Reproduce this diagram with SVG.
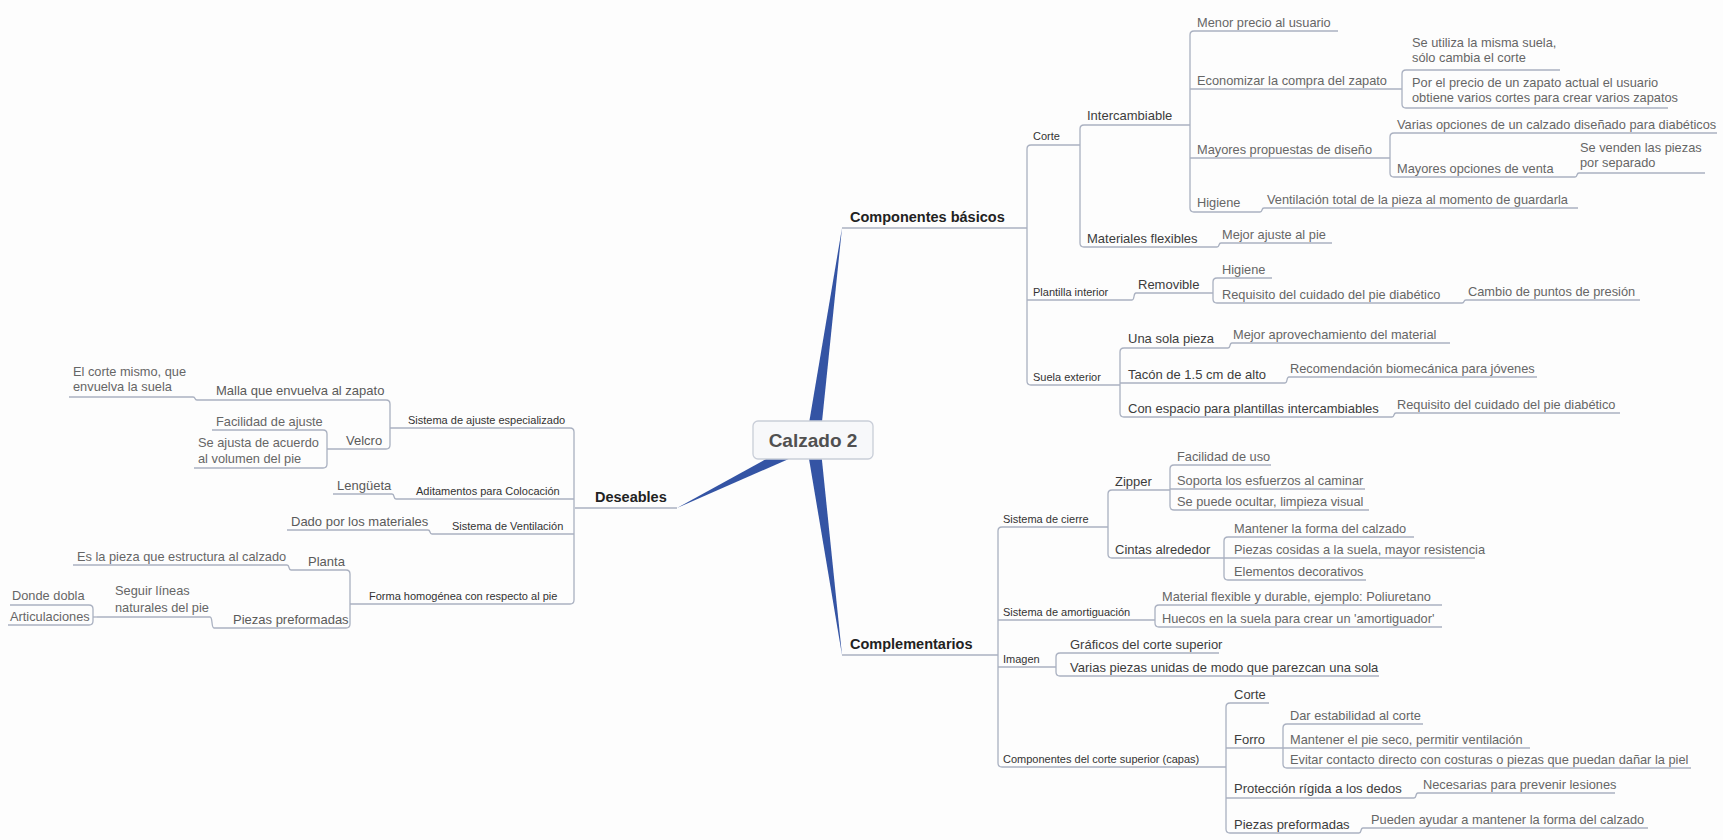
<svg xmlns="http://www.w3.org/2000/svg" width="1723" height="840" viewBox="0 0 1723 840">
<style>
text{font-family:"Liberation Sans",Arial,sans-serif}
.l1{font-size:14.5px;font-weight:bold;fill:#222}
.l2{font-size:11px;fill:#333}
.l3{font-size:13px;fill:#3c3c3c}
.l3g{font-size:13px;fill:#5a5a5a}
.l4{font-size:12.8px;fill:#666}
.root{font-size:19px;font-weight:bold;fill:#505050}
.u{stroke:#aab1c1;stroke-width:1.3;fill:none}
.c{stroke:#aab1c1;stroke-width:1.3;fill:none}
.b{fill:#3454a4}
</style>
<rect width="1723" height="840" fill="#fdfdfd"/>
<g id="connectors">
<path class="b" d="M806,441 L842,228 L820,441 Z"/>
<path class="b" d="M806,441 L842,655 L820,441 Z"/>
<path class="b" d="M810,435 L677,508 L816,447 Z"/>
<path class="c" d="M1031,145 Q1027,145 1027,149 V381 Q1027,385 1031,385"/>
<path class="c" d="M1084,125 Q1080,125 1080,129 V243 Q1080,247 1084,247"/>
<path class="c" d="M1194,31 Q1190,31 1190,35 V208 Q1190,212 1194,212"/>
<path class="c" d="M1406,70 Q1402,70 1402,74 V104 Q1402,108 1406,108"/>
<path class="c" d="M1394,133 Q1390,133 1390,137 V173 Q1390,177 1394,177"/>
<path class="c" d="M1575,177 C1578,177 1576,173 1579,173"/>
<path class="c" d="M1260,212 C1263,212 1261,208 1264,208"/>
<path class="c" d="M1217,247 C1220,247 1218,243 1221,243"/>
<path class="c" d="M1132,300 C1135,300 1133,293 1136,293"/>
<path class="c" d="M1217,278 Q1213,278 1213,282 V299 Q1213,303 1217,303"/>
<path class="c" d="M1462,303 C1465,303 1463,300 1466,300"/>
<path class="c" d="M1124,348 Q1120,348 1120,352 V413 Q1120,417 1124,417"/>
<path class="c" d="M1228,348 C1231,348 1229,343 1232,343"/>
<path class="c" d="M1285,383 C1288,383 1286,377 1289,377"/>
<path class="c" d="M1392,417 C1395,417 1393,413 1396,413"/>
<path class="c" d="M1002,527 Q998,527 998,531 V763 Q998,767 1002,767"/>
<path class="c" d="M1112,490 Q1108,490 1108,494 V554 Q1108,558 1112,558"/>
<path class="c" d="M1174,465 Q1170,465 1170,469 V506 Q1170,510 1174,510"/>
<path class="c" d="M1228,537 Q1224,537 1224,541 V576 Q1224,580 1228,580"/>
<path class="c" d="M1159,605 Q1155,605 1155,609 V623 Q1155,627 1159,627"/>
<path class="c" d="M1060,653 Q1056,653 1056,657 V672 Q1056,676 1060,676"/>
<path class="c" d="M1230,703 Q1226,703 1226,707 V829 Q1226,833 1230,833"/>
<path class="c" d="M1287,724 Q1283,724 1283,728 V764 Q1283,768 1287,768"/>
<path class="c" d="M1414,798 C1417,798 1415,793 1418,793"/>
<path class="c" d="M1359,833 C1362,833 1360,828 1363,828"/>
<path class="c" d="M570,428 Q574,428 574,432 V600 Q574,604 570,604"/>
<path class="c" d="M386,400 Q390,400 390,404 V445 Q390,449 386,449"/>
<path class="c" d="M197,400 C194,400 196,397 193,397"/>
<path class="c" d="M323,430 Q327,430 327,434 V464 Q327,468 323,468"/>
<path class="c" d="M396,499 C393,499 395,494 392,494"/>
<path class="c" d="M432,534 C429,534 431,530 428,530"/>
<path class="c" d="M346,570 Q350,570 350,574 V624 Q350,628 346,628"/>
<path class="c" d="M291,570 C288,570 290,565 287,565"/>
<path class="c" d="M214,628 C211,628 213,617 210,617"/>
<path class="c" d="M89,605 Q93,605 93,609 V621 Q93,625 89,625"/>
<path class="c" d="M97,617 H93"/>
</g>
<g id="root">
<rect x="753" y="421" width="120" height="38" rx="5" fill="#f7f8fa" stroke="#c9ced8" stroke-width="1.3"/>
<text class="root" x="813" y="447" text-anchor="middle">Calzado 2</text>
</g>
<g id="n-componentes-basicos"><text class="l1" x="850" y="222">Componentes básicos</text><line class="u" x1="842" y1="228" x2="1027" y2="228"/></g>
<g id="n-corte"><text class="l2" x="1033" y="140">Corte</text><line class="u" x1="1031" y1="145" x2="1080" y2="145"/></g>
<g id="n-intercambiable"><text class="l3" x="1087" y="120">Intercambiable</text><line class="u" x1="1084" y1="125" x2="1190" y2="125"/></g>
<g id="n-menor-precio"><text class="l4" x="1197" y="27">Menor precio al usuario</text><line class="u" x1="1194" y1="31" x2="1338" y2="31"/></g>
<g id="n-economizar"><text class="l4" x="1197" y="85">Economizar la compra del zapato</text><line class="u" x1="1190" y1="89" x2="1402" y2="89"/></g>
<g id="n-misma-suela"><text class="l4" x="1412" y="47">Se utiliza la misma suela,</text><text class="l4" x="1412" y="62">sólo cambia el corte</text><line class="u" x1="1406" y1="70" x2="1560" y2="70"/></g>
<g id="n-por-el-precio"><text class="l4" x="1412" y="87">Por el precio de un zapato actual el usuario</text><text class="l4" x="1412" y="102">obtiene varios cortes para crear varios zapatos</text><line class="u" x1="1406" y1="108" x2="1668" y2="108"/></g>
<g id="n-mayores-propuestas"><text class="l4" x="1197" y="154">Mayores propuestas de diseño</text><line class="u" x1="1190" y1="158" x2="1390" y2="158"/></g>
<g id="n-varias-opciones"><text class="l4" x="1397" y="129">Varias opciones de un calzado diseñado para diabéticos</text><line class="u" x1="1394" y1="133" x2="1717" y2="133"/></g>
<g id="n-mayores-opciones"><text class="l4" x="1397" y="173">Mayores opciones de venta</text><line class="u" x1="1394" y1="177" x2="1575" y2="177"/></g>
<g id="n-se-venden"><text class="l4" x="1580" y="152">Se venden las piezas</text><text class="l4" x="1580" y="167">por separado</text><line class="u" x1="1579" y1="173" x2="1705" y2="173"/></g>
<g id="n-higiene-1"><text class="l4" x="1197" y="207">Higiene</text><line class="u" x1="1194" y1="212" x2="1260" y2="212"/></g>
<g id="n-ventilacion-total"><text class="l4" x="1267" y="204">Ventilación total de la pieza al momento de guardarla</text><line class="u" x1="1264" y1="208" x2="1578" y2="208"/></g>
<g id="n-materiales-flexibles"><text class="l3" x="1087" y="243">Materiales flexibles</text><line class="u" x1="1084" y1="247" x2="1217" y2="247"/></g>
<g id="n-mejor-ajuste"><text class="l4" x="1222" y="239">Mejor ajuste al pie</text><line class="u" x1="1221" y1="243" x2="1332" y2="243"/></g>
<g id="n-plantilla"><text class="l2" x="1033" y="296">Plantilla interior</text><line class="u" x1="1027" y1="300" x2="1132" y2="300"/></g>
<g id="n-removible"><text class="l3" x="1138" y="289">Removible</text><line class="u" x1="1136" y1="293" x2="1213" y2="293"/></g>
<g id="n-higiene-2"><text class="l4" x="1222" y="274">Higiene</text><line class="u" x1="1217" y1="278" x2="1272" y2="278"/></g>
<g id="n-requisito-1"><text class="l4" x="1222" y="299">Requisito del cuidado del pie diabético</text><line class="u" x1="1217" y1="303" x2="1462" y2="303"/></g>
<g id="n-cambio"><text class="l4" x="1468" y="296">Cambio de puntos de presión</text><line class="u" x1="1466" y1="300" x2="1640" y2="300"/></g>
<g id="n-suela"><text class="l2" x="1033" y="381">Suela exterior</text><line class="u" x1="1031" y1="385" x2="1120" y2="385"/></g>
<g id="n-una-sola"><text class="l3" x="1128" y="343">Una sola pieza</text><line class="u" x1="1124" y1="348" x2="1228" y2="348"/></g>
<g id="n-mejor-aprov"><text class="l4" x="1233" y="339">Mejor aprovechamiento del material</text><line class="u" x1="1232" y1="343" x2="1450" y2="343"/></g>
<g id="n-tacon"><text class="l3" x="1128" y="379">Tacón de 1.5 cm de alto</text><line class="u" x1="1120" y1="383" x2="1285" y2="383"/></g>
<g id="n-recomendacion"><text class="l4" x="1290" y="373">Recomendación biomecánica para jóvenes</text><line class="u" x1="1289" y1="377" x2="1537" y2="377"/></g>
<g id="n-con-espacio"><text class="l3" x="1128" y="413">Con espacio para plantillas intercambiables</text><line class="u" x1="1124" y1="417" x2="1392" y2="417"/></g>
<g id="n-requisito-2"><text class="l4" x="1397" y="409">Requisito del cuidado del pie diabético</text><line class="u" x1="1396" y1="413" x2="1620" y2="413"/></g>
<g id="n-complementarios"><text class="l1" x="850" y="649">Complementarios</text><line class="u" x1="842" y1="655" x2="998" y2="655"/></g>
<g id="n-sistema-cierre"><text class="l2" x="1003" y="523">Sistema de cierre</text><line class="u" x1="1002" y1="527" x2="1108" y2="527"/></g>
<g id="n-zipper"><text class="l3" x="1115" y="486">Zipper</text><line class="u" x1="1112" y1="490" x2="1170" y2="490"/></g>
<g id="n-facilidad-uso"><text class="l4" x="1177" y="461">Facilidad de uso</text><line class="u" x1="1174" y1="465" x2="1271" y2="465"/></g>
<g id="n-soporta"><text class="l4" x="1177" y="485">Soporta los esfuerzos al caminar</text><line class="u" x1="1170" y1="489" x2="1365" y2="489"/></g>
<g id="n-ocultar"><text class="l4" x="1177" y="506">Se puede ocultar, limpieza visual</text><line class="u" x1="1174" y1="510" x2="1369" y2="510"/></g>
<g id="n-cintas"><text class="l3" x="1115" y="554">Cintas alrededor</text><line class="u" x1="1112" y1="558" x2="1224" y2="558"/></g>
<g id="n-mantener-forma"><text class="l4" x="1234" y="533">Mantener la forma del calzado</text><line class="u" x1="1228" y1="537" x2="1414" y2="537"/></g>
<g id="n-cosidas"><text class="l4" x="1234" y="554">Piezas cosidas a la suela, mayor resistencia</text><line class="u" x1="1224" y1="558" x2="1475" y2="558"/></g>
<g id="n-decorativos"><text class="l4" x="1234" y="576">Elementos decorativos</text><line class="u" x1="1228" y1="580" x2="1366" y2="580"/></g>
<g id="n-amortiguacion"><text class="l2" x="1003" y="616">Sistema de amortiguación</text><line class="u" x1="998" y1="620" x2="1155" y2="620"/></g>
<g id="n-material-flexible"><text class="l4" x="1162" y="601">Material flexible y durable, ejemplo: Poliuretano</text><line class="u" x1="1159" y1="605" x2="1442" y2="605"/></g>
<g id="n-huecos"><text class="l4" x="1162" y="623">Huecos en la suela para crear un 'amortiguador'</text><line class="u" x1="1159" y1="627" x2="1442" y2="627"/></g>
<g id="n-imagen"><text class="l2" x="1003" y="663">Imagen</text><line class="u" x1="998" y1="667" x2="1056" y2="667"/></g>
<g id="n-graficos"><text class="l3" x="1070" y="649">Gráficos del corte superior</text><line class="u" x1="1060" y1="653" x2="1219" y2="653"/></g>
<g id="n-varias-piezas"><text class="l3" x="1070" y="672">Varias piezas unidas de modo que parezcan una sola</text><line class="u" x1="1060" y1="676" x2="1379" y2="676"/></g>
<g id="n-componentes-corte"><text class="l2" x="1003" y="763">Componentes del corte superior (capas)</text><line class="u" x1="1002" y1="767" x2="1226" y2="767"/></g>
<g id="n-corte-2"><text class="l3" x="1234" y="699">Corte</text><line class="u" x1="1230" y1="703" x2="1269" y2="703"/></g>
<g id="n-forro"><text class="l3" x="1234" y="744">Forro</text><line class="u" x1="1226" y1="748" x2="1283" y2="748"/></g>
<g id="n-estabilidad"><text class="l4" x="1290" y="720">Dar estabilidad al corte</text><line class="u" x1="1287" y1="724" x2="1423" y2="724"/></g>
<g id="n-pie-seco"><text class="l4" x="1290" y="744">Mantener el pie seco, permitir ventilación</text><line class="u" x1="1283" y1="748" x2="1530" y2="748"/></g>
<g id="n-evitar"><text class="l4" x="1290" y="764">Evitar contacto directo con costuras o piezas que puedan dañar la piel</text><line class="u" x1="1287" y1="768" x2="1691" y2="768"/></g>
<g id="n-proteccion"><text class="l3" x="1234" y="793">Protección rígida a los dedos</text><line class="u" x1="1226" y1="798" x2="1414" y2="798"/></g>
<g id="n-necesarias"><text class="l4" x="1423" y="789">Necesarias para prevenir lesiones</text><line class="u" x1="1418" y1="793" x2="1615" y2="793"/></g>
<g id="n-piezas-pref-1"><text class="l3" x="1234" y="829">Piezas preformadas</text><line class="u" x1="1230" y1="833" x2="1359" y2="833"/></g>
<g id="n-pueden"><text class="l4" x="1371" y="824">Pueden ayudar a mantener la forma del calzado</text><line class="u" x1="1363" y1="828" x2="1648" y2="828"/></g>
<g id="n-deseables"><text class="l1" x="595" y="502">Deseables</text><line class="u" x1="575" y1="508" x2="677" y2="508"/></g>
<g id="n-sistema-ajuste"><text class="l2" x="408" y="424">Sistema de ajuste especializado</text><line class="u" x1="390" y1="428" x2="570" y2="428"/></g>
<g id="n-malla"><text class="l3g" x="216" y="395">Malla que envuelva al zapato</text><line class="u" x1="197" y1="400" x2="386" y2="400"/></g>
<g id="n-corte-mismo"><text class="l4" x="73" y="376">El corte mismo, que</text><text class="l4" x="73" y="391">envuelva la suela</text><line class="u" x1="69" y1="397" x2="193" y2="397"/></g>
<g id="n-velcro"><text class="l3g" x="346" y="445">Velcro</text><line class="u" x1="327" y1="449" x2="386" y2="449"/></g>
<g id="n-facilidad-ajuste"><text class="l4" x="216" y="426">Facilidad de ajuste</text><line class="u" x1="212" y1="430" x2="323" y2="430"/></g>
<g id="n-se-ajusta"><text class="l4" x="198" y="447">Se ajusta de acuerdo</text><text class="l4" x="198" y="463">al volumen del pie</text><line class="u" x1="194" y1="468" x2="323" y2="468"/></g>
<g id="n-aditamentos"><text class="l2" x="416" y="495">Aditamentos para Colocación</text><line class="u" x1="396" y1="499" x2="574" y2="499"/></g>
<g id="n-lengueta"><text class="l3g" x="337" y="490">Lengüeta</text><line class="u" x1="333" y1="494" x2="392" y2="494"/></g>
<g id="n-ventilacion"><text class="l2" x="452" y="530">Sistema de Ventilación</text><line class="u" x1="432" y1="534" x2="574" y2="534"/></g>
<g id="n-dado"><text class="l3g" x="291" y="526">Dado por los materiales</text><line class="u" x1="287" y1="530" x2="428" y2="530"/></g>
<g id="n-forma"><text class="l2" x="369" y="600">Forma homogénea con respecto al pie</text><line class="u" x1="350" y1="604" x2="570" y2="604"/></g>
<g id="n-planta"><text class="l3g" x="308" y="566">Planta</text><line class="u" x1="291" y1="570" x2="346" y2="570"/></g>
<g id="n-es-la-pieza"><text class="l4" x="77" y="561">Es la pieza que estructura al calzado</text><line class="u" x1="73" y1="565" x2="287" y2="565"/></g>
<g id="n-piezas-pref-2"><text class="l3g" x="233" y="624">Piezas preformadas</text><line class="u" x1="214" y1="628" x2="346" y2="628"/></g>
<g id="n-seguir"><text class="l4" x="115" y="595">Seguir líneas</text><text class="l4" x="115" y="612">naturales del pie</text><line class="u" x1="97" y1="617" x2="210" y2="617"/></g>
<g id="n-donde"><text class="l4" x="12" y="600">Donde dobla</text><line class="u" x1="10" y1="605" x2="89" y2="605"/></g>
<g id="n-articulaciones"><text class="l4" x="10" y="621">Articulaciones</text><line class="u" x1="8" y1="625" x2="89" y2="625"/></g>
</svg>
